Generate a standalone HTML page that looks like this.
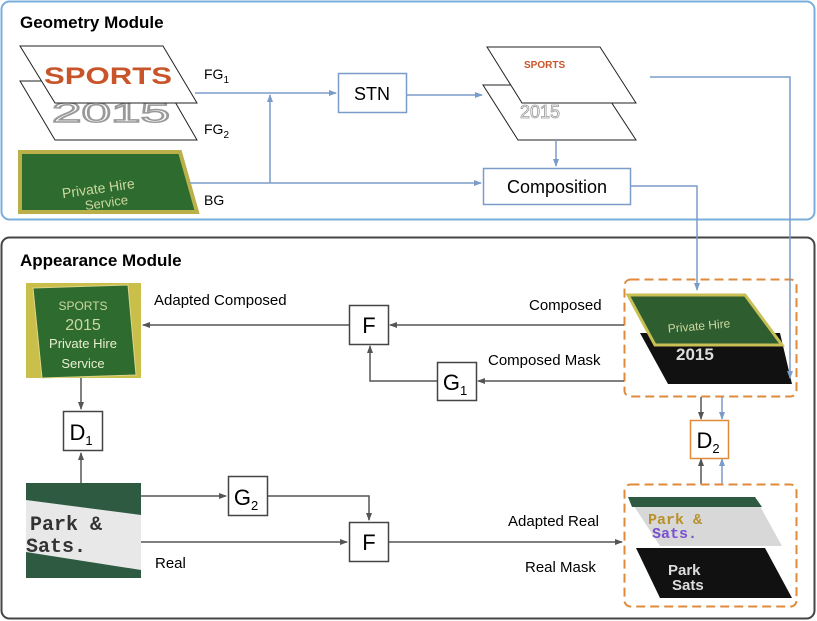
<!DOCTYPE html>
<html><head><meta charset="utf-8"><style>
html,body{margin:0;padding:0;background:#fff;}
svg{display:block;font-family:"Liberation Sans",sans-serif;}
</style></head><body>
<svg width="817" height="621" viewBox="0 0 817 621" xmlns="http://www.w3.org/2000/svg">
<defs>
<marker id="ab" markerWidth="8" markerHeight="8" refX="7" refY="4" orient="auto" markerUnits="userSpaceOnUse"><path d="M0,1 L8,4 L0,7 z" fill="#7b9cc8"/></marker>
<marker id="ad" markerWidth="8" markerHeight="8" refX="7" refY="4" orient="auto" markerUnits="userSpaceOnUse"><path d="M0,1 L8,4 L0,7 z" fill="#555"/></marker>
</defs>
<rect x="1.5" y="1.5" width="813" height="218" rx="8" fill="#fff" stroke="#7aaedc" stroke-width="2"/>
<rect x="1.5" y="237.5" width="813" height="381" rx="8" fill="#fff" stroke="#444" stroke-width="2"/>
<text x="20" y="28" font-size="17" font-weight="bold">Geometry Module</text>
<text x="20" y="266" font-size="17" font-weight="bold">Appearance Module</text>

<!-- FG planes -->
<polygon points="20,81 163,81 197,140 55,140" fill="#fff" stroke="#222"/>
<text x="52" y="122" font-size="28" fill="#fff" stroke="#999" stroke-width="1.5" textLength="118" lengthAdjust="spacingAndGlyphs">2015</text>
<polygon points="20,46 163,46 197,103 55,103" fill="#fff" stroke="#222"/>
<text x="44" y="84" font-size="24" font-weight="bold" fill="#c8552a" textLength="128" lengthAdjust="spacingAndGlyphs">SPORTS</text>
<polygon points="20,152 180,152 197,212 20,212" fill="#2e6b2e" stroke="#b9b04a" stroke-width="4"/>
<text x="62" y="193" font-size="14" fill="#cbd8a0" transform="rotate(-8 100 190)">Private Hire</text>
<text x="85" y="208" font-size="13" fill="#cbd8a0" transform="rotate(-8 100 205)">Service</text>
<text x="204" y="79" font-size="14">FG<tspan font-size="10" dy="4">1</tspan></text>
<text x="204" y="134" font-size="14">FG<tspan font-size="10" dy="4">2</tspan></text>
<text x="204" y="205" font-size="14">BG</text>

<rect x="338.5" y="73.5" width="68" height="39" fill="#fff" stroke="#7b9cc8" stroke-width="1.5"/>
<text x="372" y="100" font-size="18" text-anchor="middle">STN</text>
<rect x="483.5" y="168.5" width="147" height="36" fill="#fff" stroke="#7b9cc8" stroke-width="1.5"/>
<text x="557" y="193" font-size="18" text-anchor="middle">Composition</text>

<polygon points="483,85 600,85 636,140 518,140" fill="#fff" stroke="#222"/>
<text x="520" y="118" font-size="18" fill="#fff" stroke="#999" stroke-width="0.8">2015</text>
<polygon points="487,47 600,47 636,103 522,103" fill="#fff" stroke="#222"/>
<text x="524" y="68" font-size="10" font-weight="bold" fill="#c8552a">SPORTS</text>

<!-- appearance -->
<rect x="26" y="283" width="115" height="95" fill="#c9bf4a"/>
<polygon points="33,288 128,285 136,375 42,378" fill="#2e6b2e" stroke="#ddd58a"/>
<text x="83" y="310" font-size="12" fill="#cbd8a0" text-anchor="middle">SPORTS</text>
<text x="83" y="330" font-size="16" fill="#cbd8a0" text-anchor="middle">2015</text>
<text x="83" y="348" font-size="13" fill="#e8efd0" text-anchor="middle">Private Hire</text>
<text x="83" y="368" font-size="13" fill="#e8efd0" text-anchor="middle">Service</text>

<rect x="26" y="483" width="115" height="95" fill="#2d5a40"/>
<polygon points="26,500 141,515 141,570 26,552" fill="#e8e8e8"/>
<text x="30" y="530" font-size="20" font-weight="bold" fill="#333" font-family="Liberation Mono,monospace">Park &amp;</text>
<text x="26" y="552" font-size="20" font-weight="bold" fill="#333" font-family="Liberation Mono,monospace">Sats.</text>

<rect x="624.5" y="279.5" width="172" height="117" rx="6" fill="none" stroke="#e08a3c" stroke-width="2" stroke-dasharray="9,5"/>
<polygon points="640,333 780,333 792,384 668,384" fill="#111"/>
<text x="676" y="360" font-size="17" font-weight="bold" fill="#ddd">2015</text>
<polygon points="628,295 745,295 782,345 655,345" fill="#2e5d30" stroke="#c8bf55" stroke-width="3"/>
<text x="668" y="330" font-size="12" fill="#cbd8a0" transform="rotate(-5 700 330)">Private Hire</text>

<g stroke="#7b9cc8" stroke-width="1.5" fill="none">
<line x1="195" y1="93" x2="336" y2="93" marker-end="url(#ab)"/>
<line x1="190" y1="183" x2="481" y2="183" marker-end="url(#ab)"/>
<line x1="270" y1="183" x2="270" y2="95" marker-end="url(#ab)"/>
<line x1="406" y1="95" x2="482" y2="95" marker-end="url(#ab)"/>
<line x1="556" y1="140" x2="556" y2="166" marker-end="url(#ab)"/>
<polyline points="631,186 697,186 697,290" marker-end="url(#ab)"/>
<polyline points="650,77 790,77 790,378" marker-end="url(#ab)"/>
<line x1="722" y1="397" x2="722" y2="419" marker-end="url(#ab)"/>
<line x1="722" y1="484" x2="722" y2="459" marker-end="url(#ab)"/>
</g>

<g stroke="#555" stroke-width="1.5" fill="none">
<line x1="624" y1="325" x2="390" y2="325" marker-end="url(#ad)"/>
<line x1="349" y1="325" x2="143" y2="325" marker-end="url(#ad)"/>
<line x1="624" y1="381" x2="478" y2="381" marker-end="url(#ad)"/>
<polyline points="437,381 370,381 370,346" marker-end="url(#ad)"/>
<line x1="81" y1="378" x2="81" y2="409" marker-end="url(#ad)"/>
<line x1="81" y1="483" x2="81" y2="453" marker-end="url(#ad)"/>
<line x1="141" y1="496" x2="226" y2="496" marker-end="url(#ad)"/>
<polyline points="268,496 369,496 369,520" marker-end="url(#ad)"/>
<line x1="141" y1="542" x2="347" y2="542" marker-end="url(#ad)"/>
<line x1="388" y1="542" x2="622" y2="542" marker-end="url(#ad)"/>
<line x1="701" y1="397" x2="701" y2="419" marker-end="url(#ad)"/>
<line x1="701" y1="484" x2="701" y2="459" marker-end="url(#ad)"/>
</g>
<g fill="#fff" stroke="#444" stroke-width="1.5">
<rect x="349.5" y="305.5" width="39" height="39"/>
<rect x="437.5" y="362.5" width="39" height="38"/>
<rect x="63.5" y="411.5" width="39" height="39"/>
<rect x="228.5" y="476.5" width="39" height="39"/>
<rect x="349.5" y="522.5" width="39" height="39"/>
</g>
<g font-size="22" text-anchor="middle">
<text x="369" y="333">F</text>
<text x="369" y="550">F</text>
<text x="455" y="390">G<tspan font-size="13" dy="5">1</tspan></text>
<text x="81" y="440">D<tspan font-size="13" dy="5">1</tspan></text>
<text x="246" y="505">G<tspan font-size="13" dy="5">2</tspan></text>
</g>
<g font-size="15">
<text x="154" y="305">Adapted Composed</text>
<text x="529" y="310">Composed</text>
<text x="488" y="365">Composed Mask</text>
<text x="508" y="526">Adapted Real</text>
<text x="525" y="572">Real Mask</text>
<text x="155" y="568">Real</text>
</g>

<rect x="690.5" y="420.5" width="38" height="38" fill="#fff" stroke="#e08a3c" stroke-width="1.5"/>
<text x="708" y="448" font-size="22" text-anchor="middle">D<tspan font-size="13" dy="5">2</tspan></text>

<rect x="624.5" y="484.5" width="172" height="122" rx="6" fill="none" stroke="#e08a3c" stroke-width="2" stroke-dasharray="9,5"/>
<polygon points="636,548 765,548 792,598 660,598" fill="#111"/>
<text x="668" y="575" font-size="15" font-weight="bold" fill="#ddd">Park</text>
<text x="672" y="590" font-size="15" font-weight="bold" fill="#ddd">Sats</text>
<polygon points="628,497 755,497 782,546 660,546" fill="#d8d8d8"/>
<polygon points="628,497 755,497 762,507 632,507" fill="#2d5a40"/>
<text x="648" y="524" font-size="15" font-weight="bold" fill="#b8902a" font-family="Liberation Mono,monospace">Park &amp;</text>
<text x="652" y="538" font-size="15" font-weight="bold" fill="#7a50d0" font-family="Liberation Mono,monospace">Sats.</text>
</svg>
</body></html>
